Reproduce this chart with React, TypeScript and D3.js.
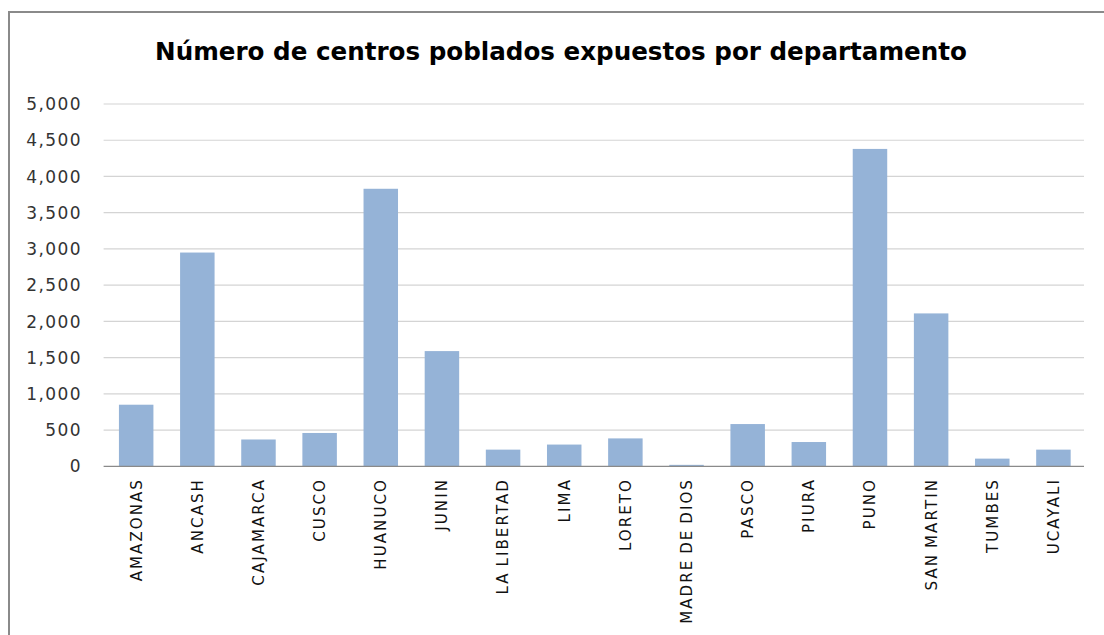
import React from "react";
import * as d3 from "d3";

const categories = [
  "AMAZONAS", "ANCASH", "CAJAMARCA", "CUSCO", "HUANUCO", "JUNIN", "LA LIBERTAD", "LIMA",
  "LORETO", "MADRE DE DIOS", "PASCO", "PIURA", "PUNO", "SAN MARTIN", "TUMBES", "UCAYALI",
];
const values = [850, 2950, 370, 460, 3830, 1590, 230, 300, 385, 20, 583, 335, 4380, 2110, 106, 230];
const yTicks = [0, 500, 1000, 1500, 2000, 2500, 3000, 3500, 4000, 4500, 5000];
const title = "Número de centros poblados expuestos por departamento";

const W = 1104;
const H = 635;
const plot = { left: 105.6, right: 1084, top: 104, bottom: 466.3 };

export default function App() {
  const x = d3
    .scaleBand<string>()
    .domain(categories)
    .range([plot.left, plot.right])
    .paddingInner(0.436)
    .paddingOuter(0.218);
  const y = d3.scaleLinear().domain([0, 5000]).range([plot.bottom, plot.top]);
  const fmt = d3.format(",");

  return (
    <svg
      width={W}
      height={H}
      style={{ position: "absolute", left: 0, top: 0, display: "block", background: "#fff" }}
    >
      <rect x={0} y={0} width={W} height={H} fill="#fff" />
      <rect x={9} y={12} width={1120} height={660} fill="#fff" stroke="#8a8a8a" strokeWidth={2} />
      <text
        x={561}
        y={60}
        textAnchor="middle"
        fontFamily="'DejaVu Sans', sans-serif"
        fontWeight="bold"
        fontSize={24.6}
        fill="#000"
      >
        {title}
      </text>
      {yTicks.map((t) => (
        <g key={t}>
          {t > 0 && (
            <line x1={plot.left - 2} x2={plot.right} y1={y(t)} y2={y(t)} stroke="#d4d4d4" strokeWidth={1.2} />
          )}
          <text
            x={82}
            y={y(t)}
            dy="0.36em"
            textAnchor="end"
            fontFamily="'DejaVu Sans', sans-serif"
            fontSize={17}
            letterSpacing={1.4}
            fill="#333"
          >
            {fmt(t)}
          </text>
        </g>
      ))}
      {categories.map((c, i) => (
        <rect
          key={c}
          x={x(c)}
          y={y(values[i])}
          width={x.bandwidth()}
          height={plot.bottom - y(values[i])}
          fill="#95B3D7"
        />
      ))}
      <line x1={plot.left - 2} x2={plot.right} y1={plot.bottom} y2={plot.bottom} stroke="#8a8a8a" strokeWidth={1.3} />
      {categories.map((c) => {
        const cx = (x(c) as number) + x.bandwidth() / 2;
        return (
          <text
            key={c}
            transform={`translate(${cx},${478}) rotate(-90)`}
            dy="0.36em"
            textAnchor="end"
            fontFamily="'DejaVu Sans', sans-serif"
            fontSize={15}
            letterSpacing={2.1}
            wordSpacing={-2}
            fill="#111"
          >
            {c}
          </text>
        );
      })}
    </svg>
  );
}
